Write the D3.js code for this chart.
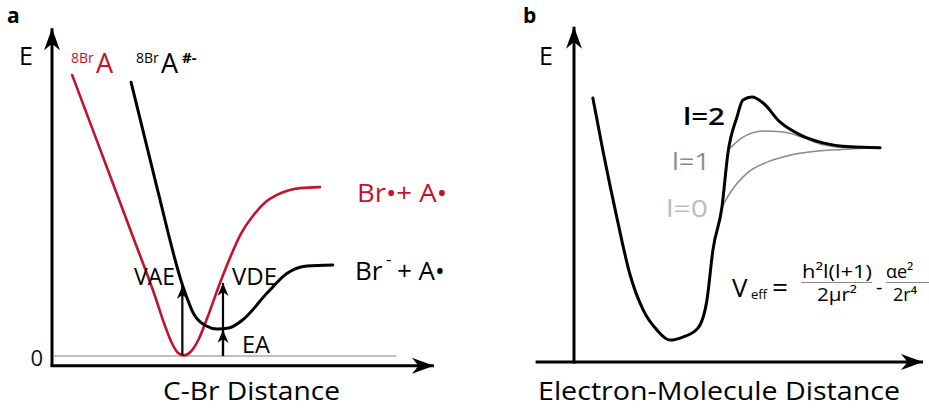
<!DOCTYPE html>
<html lang="en">
<head>
<meta charset="UTF-8">
<title>Potential energy curves</title>
<script src="https://d3js.org/d3.v7.min.js"></script>
<style>
    body { margin: 0; background: #fff; }
    text { font-family: "Open Sans", "Noto Sans", sans-serif; }
    path.curve { fill: none; stroke-linecap: round; stroke-linejoin: round; }
</style>
</head>
<body>
<svg width="929" height="409"></svg>
<script>
    // ---- panel a : C-Br distance (arbitrary units 0..100) ----
    const neutralA = [[5.3, 86.2], [12.6, 63.6], [21.3, 36.6], [27.1, 18.4], [29.5, 10.0], [31.7, 3.6],
                      [33.2, 0.9], [34.7, 0.2], [36.5, 1.3], [38.5, 4.9], [40.8, 11.5], [44.2, 22.4],
                      [46.8, 30.0], [49.5, 37.0], [52.9, 43.0], [56.0, 47.0], [59.2, 49.4], [65.3, 51.5],
                      [70.5, 51.8]];
    const anionA   = [[20.8, 84.0], [27.6, 51.8], [34.5, 21.2], [37.5, 12.5], [40.5, 9.3], [43.5, 8.3],
                      [46.5, 8.6], [50.3, 11.2], [56.6, 19.3], [61.8, 25.3], [67.1, 27.6], [73.9, 27.9]];
    const vaeX = 34.3, vaeTop = 21.5;
    const vdeX = 45.0, vdeTop = 22.4;
    const eaTop = 8.0;

    // ---- panel b : electron-molecule distance ----
    const l2 = [[5.4, 79.5], [8.3, 63.6], [12.3, 43.4], [16.0, 26.5], [19.8, 15.7], [23.8, 9.6],
                [27.5, 6.6], [31.2, 7.5], [35.5, 10.2], [38.1, 18.7], [39.8, 33.7], [42.4, 46.7],
                [44.1, 62.9], [46.7, 73.8], [48.4, 78.9], [51.0, 79.8], [54.2, 78.0], [59.0, 72.3],
                [64.8, 68.4], [71.3, 66.0], [79.1, 64.8], [87.7, 64.5]];
    const l1 = [[44.1, 63.8], [48.1, 67.5], [54.2, 69.6], [59.9, 69.3], [65.9, 67.5], [71.3, 65.4],
                [79.1, 64.5], [87.7, 64.5]];
    const l0 = [[42.4, 46.7], [44.7, 50.9], [49.6, 56.9], [55.3, 60.2], [61.9, 62.3], [70.5, 63.6],
                [80.0, 64.2], [87.7, 64.5]];

    const red = "#c3122e";
    const svg = d3.select("svg");

    const defs = svg.append("defs");
    function stealth(id, w, l) {
        defs.append("marker").attr("id", id)
            .attr("viewBox", `0 ${-w} ${l} ${2 * w}`)
            .attr("refX", l).attr("refY", 0)
            .attr("markerWidth", l).attr("markerHeight", 2 * w)
            .attr("markerUnits", "userSpaceOnUse")
            .attr("orient", "auto")
          .append("path")
            .attr("d", `M0,${-w}L${l},0L0,${w}L${l * 0.3},0Z`)
            .attr("fill", "#000");
    }
    stealth("big", 8, 22);
    stealth("small", 5.5, 13);

    // scales
    const xA = d3.scaleLinear().domain([0, 100]).range([52, 432]);
    const yA = d3.scaleLinear().domain([0, 100]).range([356, 30]);
    const xB = d3.scaleLinear().domain([0, 100]).range([574, 923]);
    const yB = d3.scaleLinear().domain([0, 100]).range([362, 30]);

    const lineA = d3.line().x(d => xA(d[0])).y(d => yA(d[1])).curve(d3.curveMonotoneX);
    const lineB = d3.line().x(d => xB(d[0])).y(d => yB(d[1])).curve(d3.curveMonotoneX);

    // ===== panel a =====
    const ga = svg.append("g");
    // zero reference line
    ga.append("line")
        .attr("x1", xA(0.5)).attr("x2", xA(90.5)).attr("y1", yA(0)).attr("y2", yA(0))
        .attr("stroke", "#aaa").attr("stroke-width", 1.3);

    // axes
    ga.append("line").attr("x1", xA(0)).attr("y1", yA(-3)).attr("x2", xA(0)).attr("y2", yA(100.5))
        .attr("stroke", "#000").attr("stroke-width", 3).attr("marker-end", "url(#big)");
    ga.append("line").attr("x1", xA(0) - 1.5).attr("y1", yA(-3)).attr("x2", xA(100.5)).attr("y2", yA(-3))
        .attr("stroke", "#000").attr("stroke-width", 3).attr("marker-end", "url(#big)");

    const zeroAxis = ga.append("g").attr("transform", `translate(${xA(0) - 9},0)`)
        .call(d3.axisLeft(yA).tickValues([0]).tickSize(0).tickPadding(0));
    zeroAxis.select(".domain").remove();
    zeroAxis.selectAll("text").attr("font-size", 22).attr("font-family", "Open Sans, sans-serif")
        .attr("fill", "#111").attr("dy", "0.45em");

    // curves
    ga.append("path").attr("class", "curve").datum(neutralA).attr("d", lineA)
        .attr("stroke", red).attr("stroke-width", 2.6);
    ga.append("path").attr("class", "curve").datum(anionA).attr("d", lineA)
        .attr("stroke", "#000").attr("stroke-width", 3);

    // transition arrows
    const arrows = [
        {x: vaeX, y0: 0, y1: vaeTop},
        {x: vdeX, y0: 0, y1: vdeTop},
        {x: vdeX, y0: 0, y1: eaTop}
    ];
    ga.selectAll("line.tr").data(arrows).join("line").attr("class", "tr")
        .attr("x1", d => xA(d.x)).attr("x2", d => xA(d.x))
        .attr("y1", d => yA(d.y0)).attr("y2", d => yA(d.y1))
        .attr("stroke", "#000").attr("stroke-width", 2.2)
        .attr("marker-end", "url(#small)");

    // labels panel a
    svg.append("text").attr("x", 7).attr("y", 23).attr("font-size", 21).attr("font-weight", "bold").text("a");
    svg.append("text").attr("x", 19).attr("y", 65).attr("font-size", 25).text("E");

    const lblN = svg.append("text").attr("fill", red);
    lblN.append("tspan").attr("x", 71).attr("y", 63).attr("font-size", 14).text("8Br");
    lblN.append("tspan").attr("x", 96).attr("y", 73).attr("font-size", 27).text("A");

    const lblAn = svg.append("text").attr("fill", "#000");
    lblAn.append("tspan").attr("x", 136).attr("y", 63).attr("font-size", 14).text("8Br");
    lblAn.append("tspan").attr("x", 161).attr("y", 73).attr("font-size", 27).text("A");
    lblAn.append("tspan").attr("x", 182).attr("y", 63).attr("font-size", 15).attr("font-weight", "bold").text("#-");

    svg.append("text").attr("x", 357).attr("y", 202).attr("font-size", 26).attr("fill", red)
        .attr("textLength", 90).attr("lengthAdjust", "spacingAndGlyphs").text("Br•+ A•");

    const lblP = svg.append("text").attr("font-size", 26).attr("fill", "#000");
    lblP.append("tspan").attr("x", 355).attr("y", 280).text("Br");
    lblP.append("tspan").attr("x", 386).attr("y", 265).attr("font-size", 17).text("-");
    lblP.append("tspan").attr("x", 397).attr("y", 280).text("+ A•");

    const small = [
        {t: "VAE", x: 134, y: 285, w: 41},
        {t: "VDE", x: 232, y: 285, w: 45},
        {t: "EA", x: 242, y: 353, w: 28}
    ];
    svg.selectAll("text.sm").data(small).join("text").attr("class", "sm")
        .attr("x", d => d.x).attr("y", d => d.y).attr("font-size", 23)
        .attr("textLength", d => d.w).attr("lengthAdjust", "spacingAndGlyphs").text(d => d.t);

    svg.append("text").attr("x", 163).attr("y", 400).attr("font-size", 26)
        .attr("textLength", 177).attr("lengthAdjust", "spacingAndGlyphs").text("C-Br Distance");

    // ===== panel b =====
    const gb = svg.append("g");
    gb.append("line").attr("x1", xB(0)).attr("y1", yB(0) + 1.5).attr("x2", xB(0)).attr("y2", yB(101))
        .attr("stroke", "#000").attr("stroke-width", 3).attr("marker-end", "url(#big)");
    gb.append("line").attr("x1", xB(-11)).attr("y1", yB(0)).attr("x2", xB(100)).attr("y2", yB(0))
        .attr("stroke", "#000").attr("stroke-width", 3).attr("marker-end", "url(#big)");

    gb.append("path").attr("class", "curve").datum(l0).attr("d", lineB)
        .attr("stroke", "#8a8a8a").attr("stroke-width", 1.5);
    gb.append("path").attr("class", "curve").datum(l1).attr("d", lineB)
        .attr("stroke", "#8a8a8a").attr("stroke-width", 1.5);
    gb.append("path").attr("class", "curve").datum(l2).attr("d", lineB)
        .attr("stroke", "#000").attr("stroke-width", 3);

    svg.append("text").attr("x", 523).attr("y", 23).attr("font-size", 21).attr("font-weight", "bold").text("b");
    svg.append("text").attr("x", 539).attr("y", 65).attr("font-size", 25).text("E");

    const lLabels = [
        {t: "l=2", x: 683, y: 125, w: 42, c: "#000", b: "600"},
        {t: "l=1", x: 672, y: 170, w: 38, c: "#8c8c8c", b: "normal"},
        {t: "l=0", x: 666, y: 217, w: 42, c: "#bdbdbd", b: "normal"}
    ];
    svg.selectAll("text.ll").data(lLabels).join("text").attr("class", "ll")
        .attr("x", d => d.x).attr("y", d => d.y).attr("font-size", 24).attr("fill", d => d.c)
        .attr("font-weight", d => d.b)
        .attr("textLength", d => d.w).attr("lengthAdjust", "spacingAndGlyphs").text(d => d.t);

    // formula
    const f = svg.append("g").attr("fill", "#000");
    f.append("text").attr("x", 732).attr("y", 297).attr("font-size", 26).text("V");
    f.append("text").attr("x", 751).attr("y", 299).attr("font-size", 13).text("eff");
    f.append("text").attr("x", 772).attr("y", 297).attr("font-size", 28).text("=");
    f.append("text").attr("x", 802).attr("y", 278).attr("font-size", 18)
        .attr("textLength", 70).attr("lengthAdjust", "spacingAndGlyphs").text("h²l(l+1)");
    f.append("line").attr("x1", 801).attr("x2", 872).attr("y1", 282.5).attr("y2", 282.5)
        .attr("stroke", "#888").attr("stroke-width", 1.2);
    f.append("text").attr("x", 817).attr("y", 301).attr("font-size", 18)
        .attr("textLength", 40).attr("lengthAdjust", "spacingAndGlyphs").text("2μr²");
    f.append("text").attr("x", 876).attr("y", 294).attr("font-size", 20).text("-");
    f.append("text").attr("x", 886).attr("y", 278).attr("font-size", 18).text("αe²");
    f.append("line").attr("x1", 886).attr("x2", 935).attr("y1", 282.5).attr("y2", 282.5)
        .attr("stroke", "#888").attr("stroke-width", 1.2);
    f.append("text").attr("x", 893).attr("y", 301).attr("font-size", 18).text("2r⁴");

    svg.append("text").attr("x", 538).attr("y", 400).attr("font-size", 26)
        .attr("textLength", 362).attr("lengthAdjust", "spacingAndGlyphs").text("Electron-Molecule Distance");
</script>
</body>
</html>
